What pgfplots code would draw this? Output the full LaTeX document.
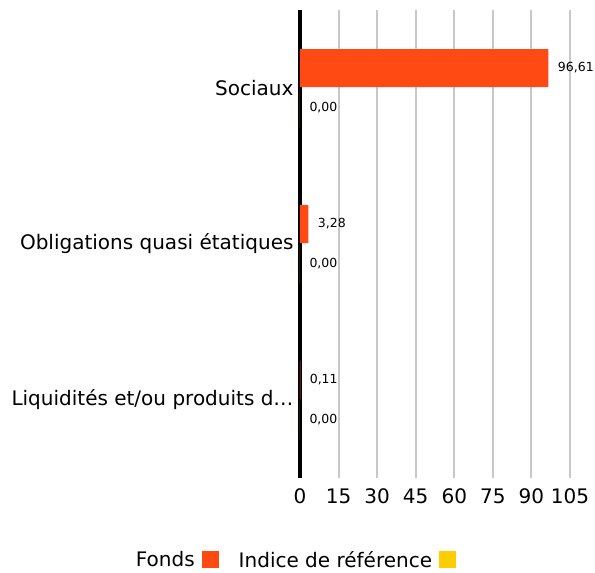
\documentclass[border=0pt]{standalone}
\usepackage{pgfplots}
\pgfplotsset{compat=1.18}
\usepackage{fontspec}
\setmainfont{DejaVu Sans}
\definecolor{fonds}{HTML}{FF4A14}
\definecolor{indice}{HTML}{FFCE00}
\definecolor{gridc}{HTML}{C8C8C8}
\begin{document}
\begin{tikzpicture}
\path[use as bounding box] (0,0) rectangle (595pt,573pt);
\begin{axis}[
  at={(300pt,95pt)}, anchor=south west,
  scale only axis, width=270pt, height=468pt,
  xbar, bar width=38pt,
  xmin=0, xmax=105, xtick={0,15,30,45,60,75,90,105},
  ymin=-0.5, ymax=2.5, y dir=reverse,
  ytick={0,1,2},
  yticklabels={{Sociaux}, {Obligations quasi étatiques}, {Liquidités et/ou produits d\ldots}},
  xmajorgrids, major grid style={gridc, line width=2pt},
  major tick length=0pt,
  separate axis lines, axis x line*=bottom, axis y line*=left,
  x axis line style={draw=none}, y axis line style={black, line width=3.5pt},
  /pgf/number format/assume math mode=true,
  tick label style={font=\fontsize{20}{23}\selectfont, black},
  xticklabel style={yshift=-7pt},
  yticklabel style={xshift=-3pt},
  nodes near coords={\pgfmathprintnumber[fixed, fixed zerofill, precision=2, use comma]{\pgfplotspointmeta}},
  nodes near coords style={font=\fontsize{12.5}{14}\selectfont, black, anchor=west, xshift=6pt},
  legend style={at={(-0.0185,-0.175)}, anchor=center, draw=none, legend columns=2,
    font=\fontsize{20}{23}\selectfont,
    /tikz/every even column/.append style={column sep=18pt}},
  legend plot pos=right,
  legend image code/.code={\fill[#1] (0pt,-8.5pt) rectangle (17pt,8.5pt);},
]
\addplot[fill=fonds, draw=none, bar shift=20pt] coordinates {(96.61,0) (3.28,1) (0.11,2)};
\addplot[fill=indice, draw=none, bar shift=-20pt] coordinates {(0,0) (0,1) (0,2)};
\legend{Fonds\rule{5pt}{0pt}, Indice de référence\rule{5pt}{0pt}}
\end{axis}
\end{tikzpicture}
\end{document}
